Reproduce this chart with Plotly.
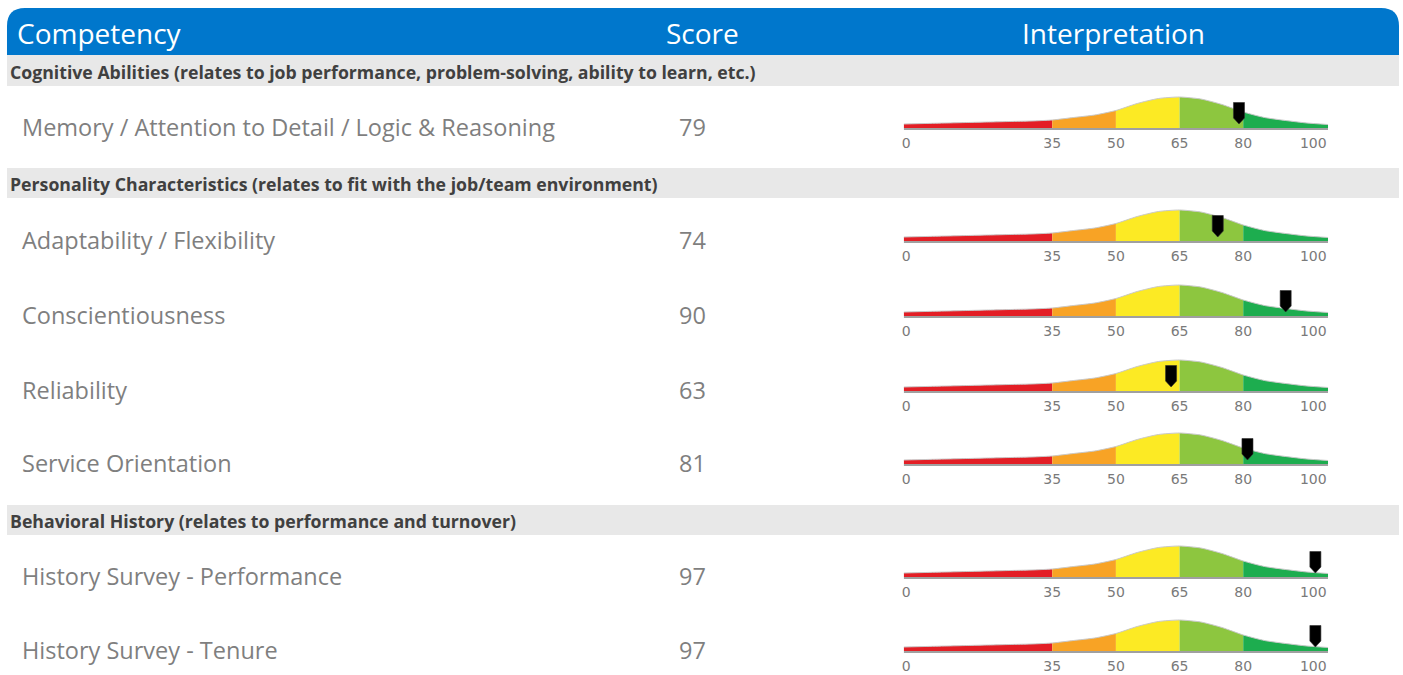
import plotly.graph_objects as go

# ---------------- data ----------------
sections = [
    "Cognitive Abilities (relates to job performance, problem-solving, ability to learn, etc.)",
    "Personality Characteristics (relates to fit with the job/team environment)",
    "Behavioral History (relates to performance and turnover)",
]
competencies = [
    "Memory / Attention to Detail / Logic & Reasoning",
    "Adaptability / Flexibility",
    "Conscientiousness",
    "Reliability",
    "Service Orientation",
    "History Survey - Performance",
    "History Survey - Tenure",
]
scores = [79, 74, 90, 63, 81, 97, 97]

# bell-shaped interpretation curve (height, in px)
curve_v = [0, 5, 10, 15, 20, 25, 30, 35, 40, 45, 50, 55, 60, 65, 70, 75, 80, 85, 90, 95, 100]
curve_h = [4, 4.5, 5, 5.5, 6, 6.5, 7, 8, 10.5, 13, 17.5, 24.5, 29.5, 31, 29, 23.5, 16, 10.5, 7.5, 5, 3.5]

band_edges = [0, 35, 50, 65, 80, 100]
band_colors = ["#E31E25", "#F8A325", "#FCEA24", "#8DC63F", "#1DAD4F"]

tick_pos = [0.6, 35, 50, 65, 80, 96.5]
tick_text = ["0", "35", "50", "65", "80", "100"]

headers = ["Competency", "Score", "Interpretation"]

# ---------------- layout constants (pixels) ----------------
W, H = 1403, 675
row_y = [127, 240, 315, 390, 463, 576, 650]
section_band = [(55, 86), (168, 198), (505, 535)]
gx0, gx1 = 903, 1328

BLUE = "#0077CC"
GREY_BG = "#E8E8E8"


def px(x):
    return x / W


def py(y):
    return 1 - y / H


fig = go.Figure()
shapes = []
annotations = []

# header bar with rounded top corners
x0, x1, y0, y1, r = 5, 1399, 8, 55, 18
path = (
    f"M {px(x0)},{py(y1)} L {px(x0)},{py(y0 + r)} "
    f"Q {px(x0)},{py(y0)} {px(x0 + r)},{py(y0)} "
    f"L {px(x1 - r)},{py(y0)} Q {px(x1)},{py(y0)} {px(x1)},{py(y0 + r)} "
    f"L {px(x1)},{py(y1)} Z"
)
shapes.append(dict(type="path", xref="paper", yref="paper", path=path,
                   fillcolor=BLUE, line=dict(width=0), layer="below"))

hdr_font = dict(family="Open Sans", size=28, color="white")
annotations.append(dict(text=headers[0], x=px(13), y=py(33), xanchor="left", yanchor="middle",
                        xref="paper", yref="paper", showarrow=False, font=hdr_font))
annotations.append(dict(text=headers[1], x=px(702), y=py(33), xanchor="center", yanchor="middle",
                        xref="paper", yref="paper", showarrow=False, font=hdr_font))
annotations.append(dict(text=headers[2], x=px(1113), y=py(33), xanchor="center", yanchor="middle",
                        xref="paper", yref="paper", showarrow=False, font=hdr_font))

# section bands
for (ya, yb), label in zip(section_band, sections):
    shapes.append(dict(type="rect", xref="paper", yref="paper",
                       x0=px(5), x1=px(1399), y0=py(yb), y1=py(ya),
                       fillcolor=GREY_BG, line=dict(width=0), layer="below"))
    annotations.append(dict(text=f"<b>{label}</b>", x=px(6), y=py((ya + yb) / 2 + 1),
                            xanchor="left", yanchor="middle", xref="paper", yref="paper",
                            showarrow=False,
                            font=dict(family="Open Sans", size=17.7, color="#404040")))

# rows
row_font = dict(family="Open Sans", size=23.5, color="#7F7F7F")
layout_axes = {}
for i, (name, sc, yc) in enumerate(zip(competencies, scores, row_y)):
    annotations.append(dict(text=name, x=px(18), y=py(yc), xanchor="left", yanchor="middle",
                            xref="paper", yref="paper", showarrow=False, font=row_font))
    annotations.append(dict(text=str(sc), x=px(676), y=py(yc), xanchor="left", yanchor="middle",
                            xref="paper", yref="paper", showarrow=False, font=row_font))

    k = i + 1
    xa = f"x{k}" if k > 1 else "x"
    ya_ = f"y{k}" if k > 1 else "y"
    base = yc + 1
    layout_axes[f"xaxis{k}"] = dict(
        domain=[px(gx0), px(gx1)], range=[0, 100], anchor=ya_,
        showgrid=False, zeroline=False, showline=False, fixedrange=True,
        tickmode="array", tickvals=tick_pos, ticktext=tick_text, ticks="",
        ticklabelstandoff=3,
        tickfont=dict(family="DejaVu Sans", size=14, color="#7A7A7A"),
    )
    layout_axes[f"yaxis{k}"] = dict(
        domain=[py(base + 2), py(base - 34)], range=[-2, 34], anchor=xa,
        visible=False, fixedrange=True,
    )

    # coloured bands under the curve
    for lo, hi, col in zip(band_edges[:-1], band_edges[1:], band_colors):
        xs = [v for v in curve_v if lo <= v <= hi]
        ys = [h for v, h in zip(curve_v, curve_h) if lo <= v <= hi]
        fig.add_trace(go.Scatter(x=xs, y=ys, xaxis=xa, yaxis=ya_, mode="lines",
                                 line=dict(width=0, color=col, shape="spline", smoothing=0.6),
                                 fill="tozeroy", fillcolor=col, hoverinfo="skip",
                                 showlegend=False))
    # grey outline along the top of the curve
    fig.add_trace(go.Scatter(x=curve_v, y=curve_h, xaxis=xa, yaxis=ya_, mode="lines",
                             line=dict(width=1, color="#C8C8C8", shape="spline", smoothing=0.6),
                             hoverinfo="skip", showlegend=False))
    # grey baseline
    fig.add_trace(go.Scatter(x=[band_edges[0], band_edges[-1]], y=[-1, -1], xaxis=xa, yaxis=ya_,
                             mode="lines", line=dict(width=2, color="#A0A0A0"),
                             hoverinfo="skip", showlegend=False))
    # score pointer
    hw = 1.3
    fig.add_trace(go.Scatter(
        x=[sc - hw, sc + hw, sc + hw, sc, sc - hw, sc - hw],
        y=[25.5, 25.5, 10, 4, 10, 25.5], xaxis=xa, yaxis=ya_, mode="lines",
        line=dict(width=0.6, color="#303030"), fill="toself", fillcolor="#000000",
        hovertemplate=f"{name}: {sc}<extra></extra>", showlegend=False))

fig.update_layout(
    width=W, height=H, margin=dict(l=0, r=0, t=0, b=0),
    paper_bgcolor="white", plot_bgcolor="rgba(0,0,0,0)",
    shapes=shapes, annotations=annotations, showlegend=False,
    **layout_axes,
)

fig.write_html(
    "out.html",
    config={"displayModeBar": False},
    post_script="document.body.style.margin='0';document.body.style.overflow='hidden';",
)
